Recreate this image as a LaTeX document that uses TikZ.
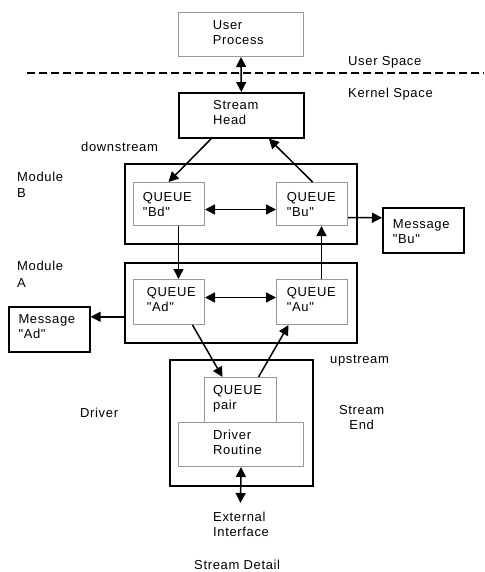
\documentclass[tikz,border=0pt]{standalone}
\usepackage{fontspec}
\setmainfont{Liberation Sans}[LetterSpace=5, Ligatures=TeXOff]
\usetikzlibrary{arrows.meta,calc}
\definecolor{boxgray}{HTML}{999999}
\newcommand{\dq}{\symbol{34}}
\tikzset{
  graybox/.style={draw=boxgray, line width=1pt, rectangle, inner sep=0pt},
  thickbox/.style={draw=black, line width=1.6pt, rectangle, inner sep=0pt},
  lbl/.style={anchor=north west, inner sep=0pt, align=left, font=\fontsize{13}{15}\selectfont},
  clbl/.style={anchor=north, inner sep=0pt, align=center, font=\fontsize{13}{15}\selectfont},
  arr/.style={line width=1.5pt, -{Triangle[length=10pt,width=10pt]}},
  darr/.style={line width=1.5pt, {Triangle[length=10pt,width=10pt]}-{Triangle[length=10pt,width=10pt]}},
}
\begin{document}
\begin{tikzpicture}[x=1pt,y=-1pt]
\useasboundingbox (0,0) rectangle (484,572);
% boxes
\node[graybox, minimum width=125, minimum height=44, anchor=north west] (up) at (178,12) {};
\node[thickbox, minimum width=125, minimum height=45, anchor=north west] (sh) at (178,92) {};
\node[thickbox, minimum width=232, minimum height=80, anchor=north west] (modB) at (124,163) {};
\node[graybox, minimum width=71, minimum height=43, anchor=north west] (qBd) at (133,182) {};
\node[graybox, minimum width=71, minimum height=43, anchor=north west] (qBu) at (276,182) {};
\node[thickbox, minimum width=81, minimum height=45, anchor=north west] (msgBu) at (382,207) {};
\node[thickbox, minimum width=232, minimum height=80, anchor=north west] (modA) at (124,262) {};
\node[graybox, minimum width=71, minimum height=45, anchor=north west] (qAd) at (133,279) {};
\node[graybox, minimum width=71, minimum height=45, anchor=north west] (qAu) at (276,279) {};
\node[thickbox, minimum width=81, minimum height=45, anchor=north west] (msgAd) at (8,306) {};
\node[thickbox, minimum width=143, minimum height=126, anchor=north west] (drv) at (169,359) {};
\node[graybox, minimum width=72, minimum height=45, anchor=north west] (qp) at (204,377) {};
\node[graybox, minimum width=125, minimum height=44, anchor=north west] (dr) at (178,422) {};
\coordinate (ext) at (240.5,503);
\coordinate (dl1) at (27,73);
\coordinate (dl2) at (484,73);
% texts
\node[lbl] (tUp) at (212.7,20.7) {User\\Process};
\node[lbl] (tUS) at (348,56.7) {User Space};
\node[lbl] (tKS) at (348,87.7) {Kernel Space};
\node[lbl] (tSH) at (213,100) {Stream\\Head};
\node[lbl] (tDown) at (81,141.7) {downstream};
\node[lbl] (tModB) at (17,171.7) {Module\\[1.5pt]B};
\node[lbl] (tBd) at (142.7,192) {QUEUE\\\dq Bd\dq};
\node[lbl] (tBu) at (286.7,192) {QUEUE\\\dq Bu\dq};
\node[lbl] (tMBu) at (392.7,219) {Message\\\dq Bu\dq};
\node[lbl] (tModA) at (17,261) {Module\\[1.5pt]A};
\node[lbl] (tAd) at (146.7,287) {QUEUE\\\dq Ad\dq};
\node[lbl] (tAu) at (286.7,287) {QUEUE\\\dq Au\dq};
\node[lbl] (tMAd) at (18.3,314) {Message\\\dq Ad\dq};
\node[lbl] (tUpS) at (330,355) {upstream};
\node[lbl] (tQP) at (213,385) {QUEUE\\pair};
\node[lbl] (tDrv) at (80,408) {Driver};
\node[clbl] (tSE) at (361.7,405) {Stream\\End};
\node[lbl] (tDR) at (213,430) {Driver\\Routine};
\node[lbl] (tExt) at (213,512) {External\\Interface};
\node[lbl] (tSD) at (194,560) {Stream Detail};
% dashed separator
\draw[line width=1.6pt, dash pattern=on 8pt off 4pt] (dl1) -- (dl2);
% connectors
\draw[darr] (up.south) -- (sh.north);
\draw[arr] ($(sh.south)+(-30,0)$) -- ($(qBd.north)+(-0.5,0)$);
\draw[arr] ($(qBu.north)+(0.5,0)$) -- ($(sh.south)+(27.5,0)$);
\draw[darr] ($(qBd.east)+(0,5.5)$) -- ($(qBu.west)+(0,5.5)$);
\draw[arr] ($(qBd.south)+(9.5,0)$) -- ($(qAd.north)+(9.5,0)$);
\draw[arr] ($(qAu.north)+(9.5,0)$) -- ($(qBu.south)+(9.5,0)$);
\draw[darr] ($(qAd.east)+(0,-4.5)$) -- ($(qAu.west)+(0,-4.5)$);
\draw[arr] ($(qBu.east)+(0,13.5)$) -- ($(msgBu.west)+(0,-12.5)$);
\draw[arr] ($(modA.west)+(0,14)$) -- ($(msgAd.east)+(0,-12.5)$);
\draw[arr] ($(qAd.south)+(23.5,0)$) -- ($(qp.north)+(-18,0)$);
\draw[arr] ($(qp.north)+(18,0)$) -- ($(qAu.south)+(-23.5,0)$);
\draw[darr] (dr.south) -- (ext);
\end{tikzpicture}
\end{document}
